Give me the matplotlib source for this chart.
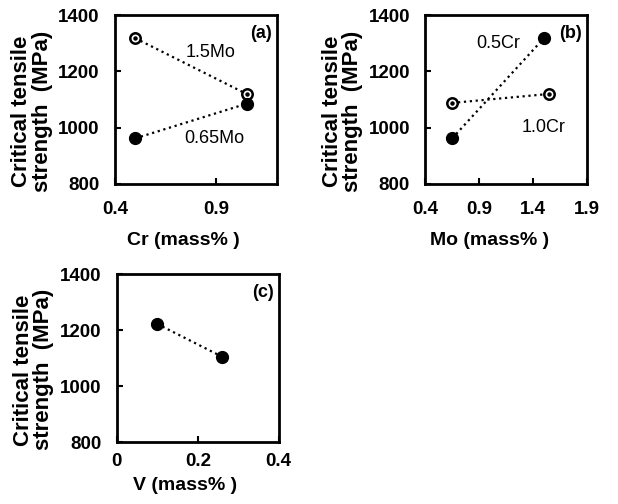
import matplotlib
matplotlib.use('Agg')
import matplotlib.pyplot as plt

plt.rcParams['font.family'] = ['Liberation Sans', 'DejaVu Sans']

# (a) Cr content
cr = [0.5, 1.05]
mo15_cr = [1318, 1120]
mo065_cr = [962, 1085]

# (b) Mo content
mo_05cr = [0.65, 1.5]
cr05_mo = [962, 1318]
mo_10cr = [0.65, 1.55]
cr10_mo = [1088, 1120]

# (c) V content
v = [0.1, 0.26]
v_ts = [1222, 1105]

yticks = [800, 1000, 1200, 1400]
ylabel = 'Critical tensile\nstrength  (MPa)'


def style(ax, xlim, xticks, xlabel, tag, xpad=12, xlab=(0.42, -0.285)):
    ax.set_xlim(*xlim)
    ax.set_ylim(800, 1400)
    ax.set_xticks(xticks)
    ax.set_xticklabels([('%g' % t) for t in xticks], fontweight='bold')
    ax.set_yticks(yticks)
    ax.set_yticklabels([str(t) for t in yticks], fontweight='bold')
    ax.tick_params(direction='in', length=4, width=1.5, labelsize=13.5)
    ax.tick_params(axis='x', pad=xpad)
    ax.tick_params(axis='y', pad=11)
    for s in ax.spines.values():
        s.set_linewidth(2)
    ax.set_xlabel(xlabel, fontsize=14, fontweight='bold')
    ax.xaxis.set_label_coords(*xlab)
    ax.set_ylabel(ylabel, fontsize=16, fontweight='bold', linespacing=0.95)
    ax.yaxis.set_label_coords(-0.385, 0.43)
    ax.text(0.9, 0.89, tag, transform=ax.transAxes, ha='center', va='center',
            fontsize=13, fontweight='bold')


def open_pts(ax, x, y):
    ax.plot(x, y, ':', color='black', lw=1.6, zorder=2)
    ax.plot(x, y, 'o', ms=7.5, mfc='white', mec='black', mew=1.8, zorder=3)
    ax.plot(x, y, 'o', ms=2.2, color='black', zorder=4)


def filled_pts(ax, x, y):
    ax.plot(x, y, ':', color='black', lw=1.6, zorder=2)
    ax.plot(x, y, 'o', ms=8.5, color='black', zorder=3)


fig = plt.figure(figsize=(6.18, 5.04), dpi=100)
ax_a = fig.add_axes([0.186, 0.635, 0.262, 0.335])
ax_b = fig.add_axes([0.688, 0.635, 0.262, 0.335])
ax_c = fig.add_axes([0.189, 0.123, 0.262, 0.333])

open_pts(ax_a, cr, mo15_cr)
filled_pts(ax_a, cr, mo065_cr)
ax_a.text(0.87, 1268, '1.5Mo', ha='center', va='center', fontsize=13)
ax_a.text(0.89, 962, '0.65Mo', ha='center', va='center', fontsize=13)
style(ax_a, (0.4, 1.2), [0.4, 0.9], 'Cr (mass% )', '(a)')

filled_pts(ax_b, mo_05cr, cr05_mo)
open_pts(ax_b, mo_10cr, cr10_mo)
ax_b.text(1.08, 1300, '0.5Cr', ha='center', va='center', fontsize=13)
ax_b.text(1.50, 1000, '1.0Cr', ha='center', va='center', fontsize=13)
style(ax_b, (0.4, 1.9), [0.4, 0.9, 1.4, 1.9], 'Mo (mass% )', '(b)',
      xlab=(0.40, -0.285))

filled_pts(ax_c, v, v_ts)
style(ax_c, (0, 0.4), [0, 0.2, 0.4], 'V (mass% )', '(c)', xpad=8,
      xlab=(0.42, -0.21))

fig.savefig('out.png', dpi=100)
